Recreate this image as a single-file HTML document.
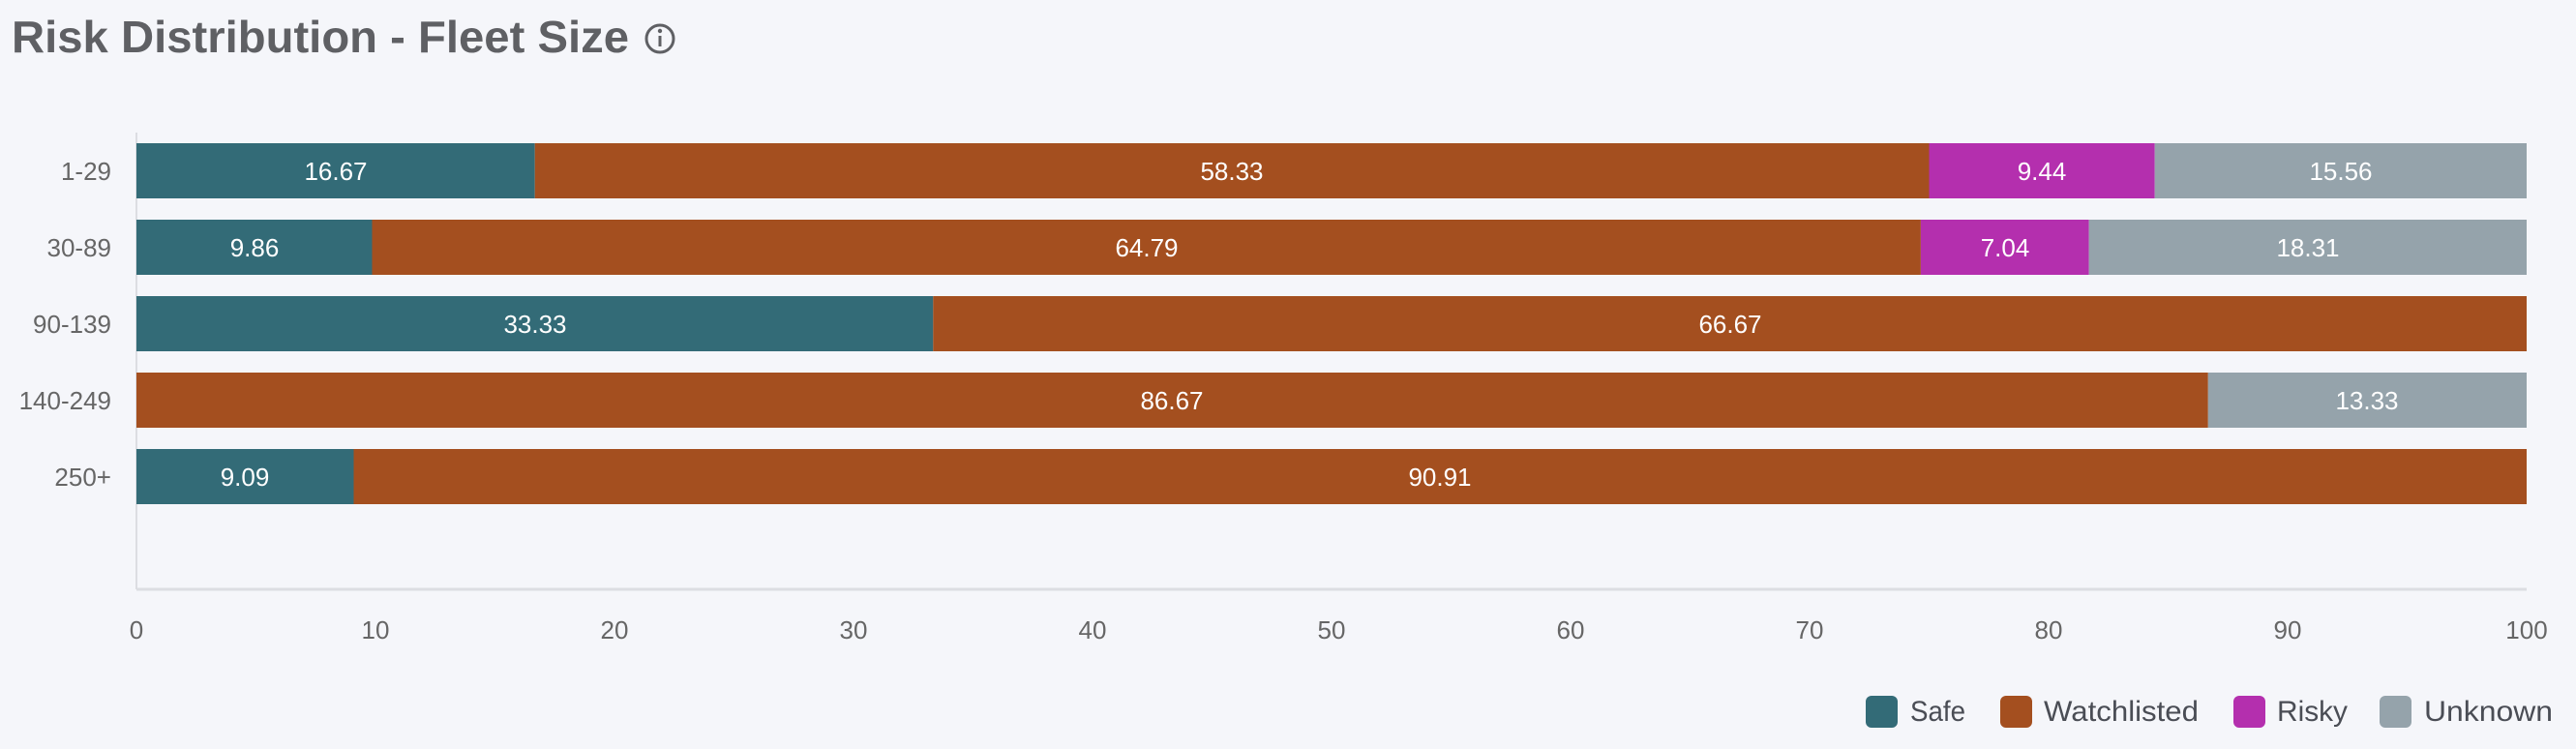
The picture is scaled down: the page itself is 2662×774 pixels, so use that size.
<!DOCTYPE html>
<html><head><meta charset="utf-8"><style>
html,body{margin:0;padding:0;background:#f5f6fa;}
svg{display:block;}
text{font-family:"Liberation Sans",sans-serif;}
</style></head><body>
<svg width="2662" height="774" viewBox="0 0 2662 774" xmlns="http://www.w3.org/2000/svg">
<rect width="2662" height="774" fill="#f5f6fa"/>
<text x="12" y="54" font-size="46" font-weight="bold" fill="#5f6064" textLength="638" lengthAdjust="spacingAndGlyphs">Risk Distribution - Fleet Size</text>
<circle cx="682" cy="40" r="14" fill="none" stroke="#5f6064" stroke-width="3"/>
<circle cx="682" cy="32" r="2.2" fill="#5f6064"/>
<rect x="680.5" y="37" width="3" height="11" fill="#5f6064"/>
<line x1="141" y1="137" x2="141" y2="609" stroke="#dcdde2" stroke-width="2"/>
<line x1="141" y1="609" x2="2611" y2="609" stroke="#dcdde2" stroke-width="3"/>
<g font-size="26" fill="#666" text-anchor="end">
<text x="115" y="186">1-29</text>
<text x="115" y="265">30-89</text>
<text x="115" y="344">90-139</text>
<text x="115" y="423">140-249</text>
<text x="115" y="502">250+</text>
</g>
<g font-size="26" fill="#666" text-anchor="middle">
<text x="141" y="660">0</text><text x="388" y="660">10</text><text x="635" y="660">20</text><text x="882" y="660">30</text><text x="1129" y="660">40</text><text x="1376" y="660">50</text><text x="1623" y="660">60</text><text x="1870" y="660">70</text><text x="2117" y="660">80</text><text x="2364" y="660">90</text><text x="2611" y="660">100</text>
</g>
<rect x="141" y="148" width="411.7" height="57" fill="#336b77"/>
<rect x="552.7" y="148" width="1440.8" height="57" fill="#a44f1f"/>
<rect x="1993.5" y="148" width="233.2" height="57" fill="#b42fae"/>
<rect x="2226.7" y="148" width="384.3" height="57" fill="#95a3ab"/>
<rect x="141" y="227" width="243.5" height="57" fill="#336b77"/>
<rect x="384.5" y="227" width="1600.4" height="57" fill="#a44f1f"/>
<rect x="1984.9" y="227" width="173.8" height="57" fill="#b42fae"/>
<rect x="2158.7" y="227" width="452.3" height="57" fill="#95a3ab"/>
<rect x="141" y="306" width="823.3" height="57" fill="#336b77"/>
<rect x="964.3" y="306" width="1646.7" height="57" fill="#a44f1f"/>
<rect x="141" y="385" width="2140.8" height="57" fill="#a44f1f"/>
<rect x="2281.8" y="385" width="329.2" height="57" fill="#95a3ab"/>
<rect x="141" y="464" width="224.5" height="57" fill="#336b77"/>
<rect x="365.5" y="464" width="2245.5" height="57" fill="#a44f1f"/>
<g font-size="26" fill="#fff" text-anchor="middle">
<text x="347" y="186">16.67</text><text x="1273" y="186">58.33</text><text x="2110" y="186">9.44</text><text x="2419" y="186">15.56</text>
<text x="263" y="265">9.86</text><text x="1185" y="265">64.79</text><text x="2072" y="265">7.04</text><text x="2385" y="265">18.31</text>
<text x="553" y="344">33.33</text><text x="1788" y="344">66.67</text>
<text x="1211" y="423">86.67</text><text x="2446" y="423">13.33</text>
<text x="253" y="502">9.09</text><text x="1488" y="502">90.91</text>
</g>
<rect x="1928" y="719" width="33" height="33" rx="6" fill="#336b77"/>
<rect x="2067" y="719" width="33" height="33" rx="6" fill="#a44f1f"/>
<rect x="2308" y="719" width="33" height="33" rx="6" fill="#b42fae"/>
<rect x="2459" y="719" width="33" height="33" rx="6" fill="#95a3ab"/>
<g font-size="30" fill="#4a4d55">
<text x="1974" y="745" textLength="57" lengthAdjust="spacingAndGlyphs">Safe</text>
<text x="2112" y="745" textLength="160" lengthAdjust="spacingAndGlyphs">Watchlisted</text>
<text x="2353" y="745" textLength="73" lengthAdjust="spacingAndGlyphs">Risky</text>
<text x="2505" y="745" textLength="133" lengthAdjust="spacingAndGlyphs">Unknown</text>
</g>
</svg>
</body></html>
